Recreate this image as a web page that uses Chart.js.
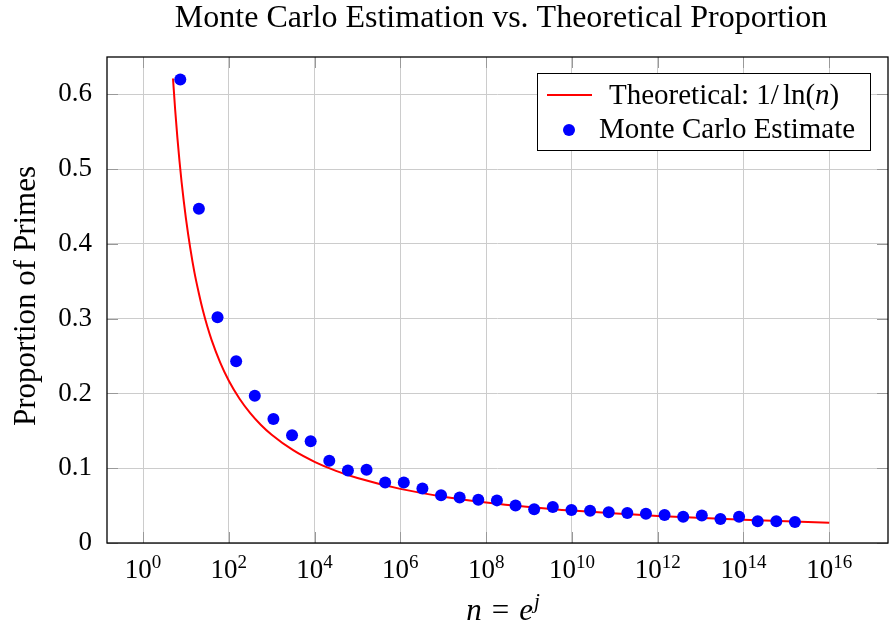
<!DOCTYPE html>
<html>
<head>
<meta charset="utf-8">
<script src="https://cdn.jsdelivr.net/npm/chart.js@4.4.0/dist/chart.umd.min.js"></script>
<style>
  html, body { margin: 0; padding: 0; background: #fff; overflow: hidden; }
  #wrap { width: 889px; height: 628px; position: relative; }
</style>
</head>
<body>
<div id="wrap"><canvas id="chart"></canvas></div>
<script>
// n = e^j for these j
const exponentsJ = [2, 3, 4, 5, 6, 7, 8, 9, 10, 11, 12, 13, 14, 15, 16, 17, 18,
  19, 20, 21, 22, 23, 24, 25, 26, 27, 28, 29, 30, 31, 32, 33, 34, 35];
const monteCarlo = [0.620, 0.447, 0.302, 0.243, 0.197, 0.166, 0.144, 0.136, 0.110,
  0.097, 0.098, 0.081, 0.081, 0.073, 0.064, 0.061, 0.058, 0.057, 0.050, 0.045,
  0.048, 0.044, 0.043, 0.041, 0.040, 0.039, 0.0375, 0.035, 0.0367, 0.032, 0.035,
  0.029, 0.029, 0.028];

// theoretical curve 1/ln(n), sampled
const theoryN = [5, 5.62, 6.31, 7.08, 7.94, 8.91, 10, 12.6, 15.8, 20, 25.1, 31.6,
  39.8, 63.1, 100, 178, 316, 562, 1e3, 3.16e3, 1e4, 3.16e4, 1e5, 1e6, 1e7, 1e8,
  1e9, 1e10, 1e12, 1e14, 1e16];
const theoryP = [0.6213, 0.5791, 0.5429, 0.5109, 0.4825, 0.4571, 0.4343, 0.3948,
  0.3619, 0.3341, 0.3102, 0.2895, 0.2714, 0.2413, 0.2171, 0.1930, 0.1737, 0.1579,
  0.1448, 0.1241, 0.1086, 0.0965, 0.0869, 0.0724, 0.0620, 0.0543, 0.0483, 0.0434,
  0.0362, 0.0310, 0.0271];

const xTickExps = [0, 2, 4, 6, 8, 10, 12, 14, 16];
const yTicks = [0, 0.1, 0.2, 0.3, 0.4, 0.5, 0.6];

const FONT = '"Liberation Serif", "Times New Roman", serif';
const GRID = '#cccccc';
// plot box as in the reference
const AREA = { left: 107, right: 888, top: 57, bottom: 543 };

function drawRuns(ctx, x, y, runs, align) {
  let total = 0;
  runs.forEach(r => { ctx.font = r.f; total += ctx.measureText(r.t).width + (r.gap || 0); });
  let cx = align === 'center' ? x - total / 2 : x;
  runs.forEach(r => {
    ctx.font = r.f;
    ctx.fillText(r.t, cx, y - (r.rise || 0));
    cx += ctx.measureText(r.t).width + (r.gap || 0);
  });
}

const decor = {
  id: 'decor',
  beforeDatasetsDraw(chart) {
    const { ctx, chartArea: a, scales: { x, y } } = chart;
    ctx.save();
    ctx.strokeStyle = '#999999';
    ctx.lineWidth = 1;
    ctx.beginPath();
    xTickExps.forEach(e => {
      const px = Math.round(x.getPixelForValue(10 ** e)) + 0.5;
      ctx.moveTo(px, a.bottom); ctx.lineTo(px, a.bottom - 11);
      ctx.moveTo(px, a.top); ctx.lineTo(px, a.top + 11);
    });
    yTicks.forEach(v => {
      const py = Math.round(y.getPixelForValue(v)) + 0.5;
      ctx.moveTo(a.left, py); ctx.lineTo(a.left + 11, py);
      ctx.moveTo(a.right, py); ctx.lineTo(a.right - 11, py);
    });
    ctx.stroke();
    ctx.restore();
  },
  afterDraw(chart) {
    const { ctx, chartArea: a, scales: { x } } = chart;
    ctx.save();
    // frame
    ctx.strokeStyle = '#000';
    ctx.lineWidth = 1.3;
    ctx.strokeRect(a.left, a.top, a.right - a.left, a.bottom - a.top);

    ctx.fillStyle = '#000';
    ctx.textBaseline = 'alphabetic';
    ctx.textAlign = 'left';

    // x tick labels 10^k
    xTickExps.forEach(e => {
      const px = x.getPixelForValue(10 ** e);
      drawRuns(ctx, px, 578, [
        { t: '10', f: '27px ' + FONT },
        { t: String(e), f: '19px ' + FONT, rise: 10 }
      ], 'center');
    });

    // title
    ctx.font = '32px ' + FONT;
    ctx.textAlign = 'center';
    ctx.fillText('Monte Carlo Estimation vs. Theoretical Proportion', 501, 27);

    // y title
    ctx.save();
    ctx.translate(35, 296);
    ctx.rotate(-Math.PI / 2);
    ctx.font = '31px ' + FONT;
    ctx.fillText('Proportion of Primes', 0, 0);
    ctx.restore();

    // x title
    ctx.textAlign = 'left';
    drawRuns(ctx, 503, 620, [
      { t: 'n', f: 'italic 31px ' + FONT, gap: 10 },
      { t: '=', f: '31px ' + FONT, gap: 10 },
      { t: 'e', f: 'italic 31px ' + FONT, gap: 1 },
      { t: 'j', f: 'italic 21px ' + FONT, rise: 12 }
    ], 'center');

    // legend
    const lx = 537.5, ly = 73.5, lw = 333, lh = 77;
    ctx.fillStyle = '#fff';
    ctx.fillRect(lx, ly, lw, lh);
    ctx.strokeStyle = '#000';
    ctx.lineWidth = 1;
    ctx.strokeRect(lx, ly, lw, lh);
    const line = chart.data.datasets[1];
    const dots = chart.data.datasets[0];
    ctx.strokeStyle = line.borderColor;
    ctx.lineWidth = 2;
    ctx.beginPath();
    ctx.moveTo(547, 95); ctx.lineTo(592, 95);
    ctx.stroke();
    ctx.fillStyle = dots.backgroundColor;
    ctx.beginPath();
    ctx.arc(569, 130, 6, 0, Math.PI * 2);
    ctx.fill();
    ctx.fillStyle = '#000';
    drawRuns(ctx, 609, 104, [
      { t: 'Theoretical: 1/', f: '29px ' + FONT, gap: 4 },
      { t: 'ln(', f: '29px ' + FONT },
      { t: 'n', f: 'italic 29px ' + FONT },
      { t: ')', f: '29px ' + FONT }
    ]);
    ctx.font = '29px ' + FONT;
    ctx.fillText(dots.label, 599, 138);
    ctx.restore();
  }
};

const ctx = document.getElementById('chart').getContext('2d');
const chart = new Chart(ctx, {
  data: {
    datasets: [{
      type: 'scatter',
      label: 'Monte Carlo Estimate',
      data: exponentsJ.map((j, i) => ({ x: Math.exp(j), y: monteCarlo[i] })),
      backgroundColor: '#0000ff',
      borderWidth: 0,
      pointRadius: 6,
      order: 0
    }, {
      type: 'line',
      label: 'Theoretical: 1/ln(n)',
      data: theoryN.map((n, i) => ({ x: n, y: theoryP[i] })),
      borderColor: '#ff0000',
      borderWidth: 2,
      pointRadius: 0,
      fill: false,
      cubicInterpolationMode: 'monotone',
      order: 1
    }]
  },
  options: {
    responsive: true,
    maintainAspectRatio: false,
    animation: false,
    devicePixelRatio: 1,
    layout: {
      autoPadding: false,
      padding: { top: AREA.top, right: 889 - AREA.right, left: 0, bottom: 0 }
    },
    plugins: {
      legend: { display: false },
      title: { display: false },
      tooltip: { enabled: false }
    },
    scales: {
      x: {
        type: 'logarithmic',
        min: 10 ** -0.84,
        max: 10 ** 17.37,
        afterBuildTicks: s => { s.ticks = xTickExps.map(e => ({ value: 10 ** e })); },
        afterFit: s => { s.height = 628 - AREA.bottom; },
        ticks: { display: false },
        grid: { color: GRID, drawTicks: false },
        border: { display: false }
      },
      y: {
        type: 'linear',
        min: 0,
        max: 0.65,
        afterBuildTicks: s => { s.ticks = yTicks.map(v => ({ value: v })); },
        afterFit: s => { s.width = AREA.left; },
        ticks: {
          padding: 15,
          color: '#000',
          font: { family: FONT, size: 27 },
          callback: v => v === 0 ? '0' : v.toFixed(1)
        },
        grid: { color: GRID, drawTicks: false },
        border: { display: false }
      }
    }
  },
  plugins: [decor]
});
</script>
</body>
</html>
